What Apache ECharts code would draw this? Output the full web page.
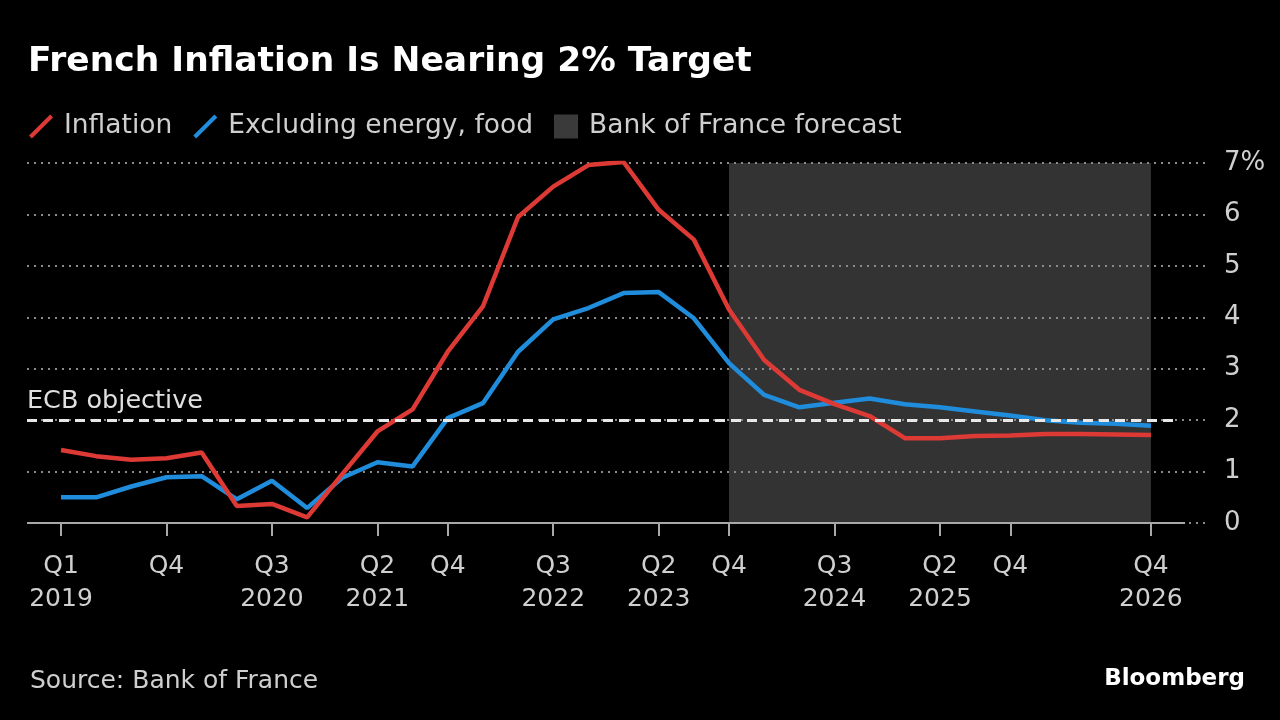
<!DOCTYPE html>
<html><head><meta charset="utf-8">
<script src="https://cdn.jsdelivr.net/npm/echarts@6/dist/echarts.min.js"></script>
<style>html,body{margin:0;padding:0;background:#000;} #c{width:1280px;height:720px;}</style>
</head><body><div id="c"></div>
<script>
// ---- data ----
const quarters = [
  'Q1 2019','Q2 2019','Q3 2019','Q4 2019','Q1 2020','Q2 2020','Q3 2020','Q4 2020',
  'Q1 2021','Q2 2021','Q3 2021','Q4 2021','Q1 2022','Q2 2022','Q3 2022','Q4 2022',
  'Q1 2023','Q2 2023','Q3 2023','Q4 2023','Q1 2024','Q2 2024','Q3 2024','Q4 2024',
  'Q1 2025','Q2 2025','Q3 2025','Q4 2025','Q1 2026','Q2 2026','Q3 2026','Q4 2026'
];
const inflation = [1.42,1.30,1.23,1.26,1.37,0.33,0.37,0.11,0.95,1.78,2.21,3.33,4.21,5.95,6.54,6.96,7.02,6.09,5.51,4.15,3.17,2.59,2.31,2.08,1.65,1.65,1.69,1.70,1.73,1.73,1.72,1.71];
const exEnergyFood = [0.50,0.50,0.71,0.89,0.91,0.46,0.82,0.29,0.88,1.18,1.10,2.04,2.33,3.33,3.96,4.18,4.47,4.49,3.98,3.11,2.49,2.25,2.34,2.42,2.31,2.25,2.17,2.09,2.00,1.95,1.93,1.89];
const tickQuarters = ['Q1 2019','Q4 2019','Q3 2020','Q2 2021','Q4 2021','Q3 2022','Q2 2023','Q4 2023','Q3 2024','Q2 2025','Q4 2025','Q4 2026'];
const tickLabels = ['Q1\n2019','Q4','Q3\n2020','Q2\n2021','Q4','Q3\n2022','Q2\n2023','Q4','Q3\n2024','Q2\n2025','Q4','Q4\n2026'];
const yTicks = [0,1,2,3,4,5,6,7];
const ecbObjective = 2;
const forecastStart = 'Q4 2023';
const forecastEnd = 'Q4 2026';

// ---- build ----
const FONT = "'DejaVu Sans', sans-serif";
const idx = q => quarters.indexOf(q);
const tickIdx = tickQuarters.map(idx);
const yMax = yTicks[yTicks.length - 1];
const xMin = -0.967, xMax = 32.68, lineEnd = 31.97, ecbEnd = 31.8;

const chart = echarts.init(document.getElementById('c'), null, {renderer: 'canvas'});
chart.setOption({
  backgroundColor: '#000',
  animation: false,
  textStyle: {fontFamily: FONT},
  title: [
    {text: 'French Inflation Is Nearing 2% Target', left: 23, top: 40,
     textStyle: {color: '#fff', fontSize: 34.5, fontWeight: 'bold', fontFamily: FONT}},
    {text: 'Source: Bank of France', left: 25, top: 664,
     textStyle: {color: '#cfcfcf', fontSize: 25, fontWeight: 'normal', fontFamily: FONT}},
    {text: 'Bloomberg', right: 30, top: 663,
     textStyle: {color: '#fff', fontSize: 23, fontWeight: 'bold', fontFamily: FONT}}
  ],
  legend: {
    left: 24, top: 108, itemGap: 21, itemWidth: 24, itemHeight: 24,
    textStyle: {color: '#cfcfcf', fontSize: 26.5, fontFamily: FONT, padding: [0,0,0,6]},
    data: [
      {name: 'Inflation', icon: 'path://M0,22 L3,25 L25,3 L22,0 Z'},
      {name: 'Excluding energy, food', icon: 'path://M0,22 L3,25 L25,3 L22,0 Z'},
      {name: 'Bank of France forecast', icon: 'rect', itemStyle: {color: '#3a3a3a'}}
    ]
  },
  grid: {left: 27, right: 70, top: 163, bottom: 197},
  xAxis: {
    type: 'value', min: xMin, max: xMax,
    splitLine: {show: false},
    axisLine: {show: false},
    axisTick: {show: true, customValues: tickIdx, length: 13, lineStyle: {color: '#a8a8a8', width: 2}},
    axisLabel: {
      customValues: tickIdx, color: '#cfcfcf', fontSize: 25, lineHeight: 33, margin: 27, fontFamily: FONT,
      formatter: v => tickLabels[tickIdx.indexOf(Math.round(v))] || ''
    }
  },
  yAxis: {
    type: 'value', position: 'right', min: 0, max: yMax, interval: 1, z: 1.5,
    axisLine: {show: false}, axisTick: {show: false},
    splitLine: {show: true, lineStyle: {color: '#8a8a8a', width: 2, type: [2, 5]}},
    axisLabel: {color: '#cfcfcf', fontSize: 26, margin: 14, fontFamily: FONT,
      formatter: v => v === yMax ? v + '%' : String(v)}
  },
  series: [
    {
      name: 'Bank of France forecast', type: 'line', data: [], z: 1,
      itemStyle: {color: '#3a3a3a'},
      markArea: {silent: true, z: 1, itemStyle: {color: '#333333'},
        data: [[{xAxis: idx(forecastStart), yAxis: 0}, {xAxis: idx(forecastEnd), yAxis: yMax}]]},
      markLine: {silent: true, symbol: 'none', animation: false,
        data: [
          [{coord: [xMin, 0], lineStyle: {color: '#a8a8a8', width: 2, type: 'solid'}, label: {show: false}},
           {coord: [lineEnd, 0]}],
          [{coord: [xMin, ecbObjective], lineStyle: {color: '#e8e8e8', width: 3, type: [10, 6]},
            label: {show: true, formatter: 'ECB objective', position: 'insideStartTop', color: '#e0e0e0',
                    fontSize: 25.5, fontFamily: FONT, distance: [0, 6]}},
           {coord: [ecbEnd, ecbObjective]}]
        ]}
    },
    {
      name: 'Excluding energy, food', type: 'line', showSymbol: false, z: 3,
      data: exEnergyFood.map((v, i) => [i, v]),
      itemStyle: {color: '#1f8ddb'}, lineStyle: {color: '#1f8ddb', width: 4.5}
    },
    {
      name: 'Inflation', type: 'line', showSymbol: false, z: 3,
      data: inflation.map((v, i) => [i, v]),
      itemStyle: {color: '#dd3a36'}, lineStyle: {color: '#dd3a36', width: 4.5}
    }
  ]
});
</script>
</body></html>
